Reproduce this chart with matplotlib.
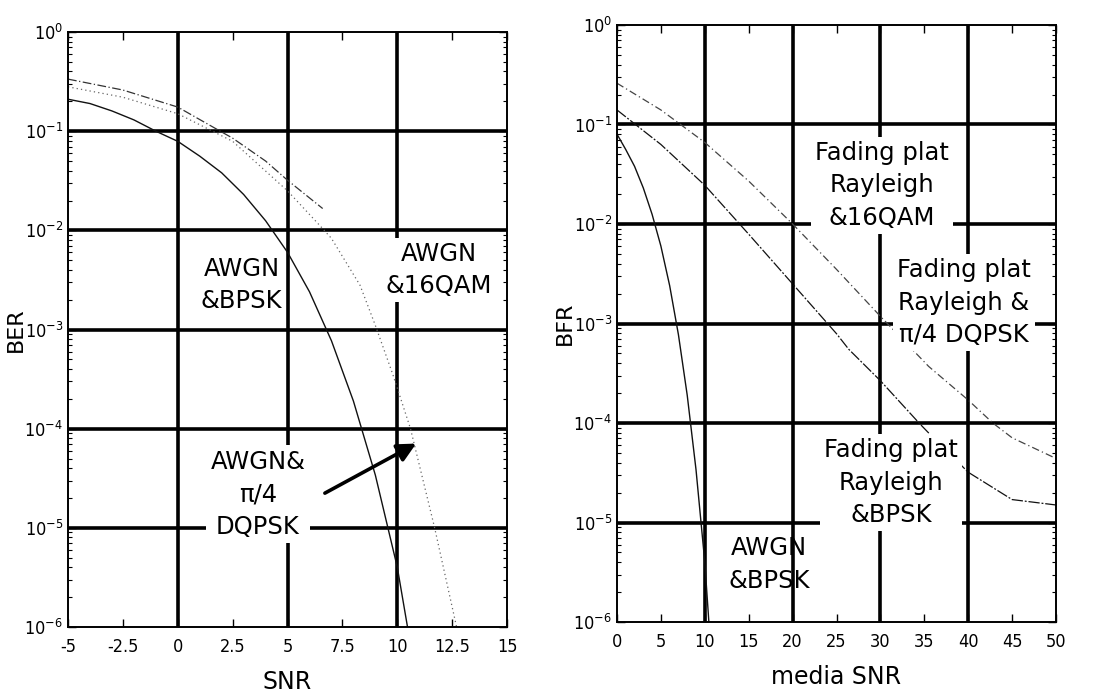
import matplotlib

matplotlib.use("Agg")
import matplotlib.pyplot as plt

# --- AWGN panel (BER vs SNR, dB) ---
awgn_bpsk_snr = [-5, -4, -3, -2, -1, 0, 1, 2, 3, 4, 5, 6, 7, 8, 9, 10, 10.5]
awgn_bpsk_ber = [0.21, 0.19, 0.16, 0.13, 0.10, 0.079, 0.056, 0.038, 0.023, 0.0125,
                 0.006, 0.0024, 7.7e-4, 1.9e-4, 3.4e-5, 4e-6, 9e-7]

awgn_qam_snr = [-5, -2.5, 0, 1.7, 2.5, 4, 5, 6.6]
awgn_qam_ber = [0.335, 0.26, 0.175, 0.107, 0.085, 0.05, 0.032, 0.0166]

awgn_dqpsk_snr = [-5, -2.5, 0, 2.5, 5, 6.5, 7, 8.3, 9.0, 9.8, 10.6, 11.7, 12.7]
awgn_dqpsk_ber = [0.28, 0.22, 0.15, 0.079, 0.025, 0.011, 0.0083, 2.8e-3, 1.1e-3,
                  3.5e-4, 1e-4, 1e-5, 1e-6]

# --- flat Rayleigh panel (BER vs mean SNR, dB) ---
ray_awgn_snr = [0, 1, 2, 3, 4, 5, 6, 7, 8, 9, 10, 10.5]
ray_awgn_ber = [0.08, 0.056, 0.038, 0.023, 0.0125, 0.006, 0.0024, 7.7e-4, 1.9e-4,
                3.4e-5, 4e-6, 9e-7]

ray_bpsk_snr = [0, 5, 10, 15, 20, 25, 26.4, 30, 34.4, 35.4, 40, 45, 50]
ray_bpsk_ber = [0.14, 0.063, 0.0245, 0.0079, 0.0025, 7.9e-4, 5.5e-4, 2.66e-4, 1e-4,
                8.1e-5, 3.2e-5, 1.7e-5, 1.5e-5]

ray_upper_snr = [0, 5, 10, 15, 20, 25, 30, 35.5, 40, 42.8, 45, 50]
ray_upper_ber = [0.26, 0.14, 0.066, 0.027, 0.01, 3.5e-3, 1.18e-3, 3.7e-4, 1.7e-4,
                 1e-4, 7.1e-5, 4.4e-5]

LEFT_XTICKS = [-5, -2.5, 0, 2.5, 5, 7.5, 10, 12.5, 15]
RIGHT_XTICKS = list(range(0, 55, 5))
DECADES = list(range(-6, 1))

plt.rcParams["font.family"] = ["DejaVu Sans"]
TICK = dict(fontsize=13, fontstretch="condensed")


def decade_label(k):
    return r"$\mathregular{10^{%d}}$" % k


def frame(ax, xlim, xticks, vgrid):
    ax.set_yscale("log")
    ax.set_xlim(*xlim)
    ax.set_ylim(1e-6, 1)
    ax.set_xticks(xticks)
    ax.set_xticklabels([f"{t:g}" for t in xticks], **TICK)
    ax.set_yticks([10.0 ** k for k in DECADES])
    ax.set_yticklabels([decade_label(k) for k in DECADES], **TICK)
    ax.tick_params(which="both", direction="in", top=True, right=True)
    ax.tick_params(which="major", length=6, width=1)
    ax.tick_params(which="minor", length=3, width=0.8)
    ax.tick_params(axis="x", pad=8)
    for s in ax.spines.values():
        s.set_linewidth(1.4)
    # heavy grid, every other x tick and every decade
    for x in vgrid:
        ax.axvline(x, color="black", lw=2.6, zorder=1)
    for k in DECADES[1:-1]:
        ax.axhline(10.0 ** k, color="black", lw=2.6, zorder=1)


box = dict(facecolor="white", edgecolor="none", pad=3)
txt = dict(fontsize=17.5, ha="center", va="center", linespacing=1.45, zorder=3)

fig = plt.figure(figsize=(10.99, 6.96), dpi=100)

# left: AWGN
ax = fig.add_axes([0.0619, 0.0991, 0.3995, 0.8549])
frame(ax, (-5, 15), LEFT_XTICKS, [0, 5, 10])
ax.plot(awgn_bpsk_snr, awgn_bpsk_ber, color="#111111", lw=1.0, zorder=2)
ax.plot(awgn_qam_snr, awgn_qam_ber, color="#333333", lw=0.9, ls=(0, (7, 2, 1, 2)), zorder=2)
ax.plot(awgn_dqpsk_snr, awgn_dqpsk_ber, color="#666666", lw=0.9, ls=(0, (1, 2.5)), zorder=2)
ax.text(2.9, 10 ** -2.55, "AWGN\n&BPSK", bbox=box, **txt)
ax.text(11.9, 10 ** -2.4, "AWGN\n&16QAM", bbox=box, **txt)
ax.text(3.65, 10 ** -4.66, "AWGN&\n\u03c0/4\nDQPSK", bbox=box, **txt)
ax.annotate("", xy=(10.86, 10 ** -4.15), xytext=(6.7, 10 ** -4.65), zorder=4,
            arrowprops=dict(arrowstyle="-|>", lw=2.6, color="black", mutation_scale=28,
                            shrinkA=0, shrinkB=0))
ax.set_xlabel("SNR", fontsize=17, labelpad=10)
ax.set_ylabel("BER", fontsize=16)
ax.yaxis.set_label_coords(-0.095, 0.5)

# right: flat Rayleigh fading
ax = fig.add_axes([0.5614, 0.1063, 0.3995, 0.8578])
frame(ax, (0, 50), RIGHT_XTICKS, [10, 20, 30, 40])
ax.plot(ray_awgn_snr, ray_awgn_ber, color="#111111", lw=1.0, zorder=2)
ax.plot(ray_bpsk_snr, ray_bpsk_ber, color="#111111", lw=0.9, ls=(0, (9, 1.5, 1.5, 1.5)), zorder=2)
ax.plot(ray_upper_snr, ray_upper_ber, color="#444444", lw=0.9, ls=(0, (6, 2.5, 1, 2.5)), zorder=2)
ax.text(30.2, 10 ** -1.61, "Fading plat\nRayleigh\n&16QAM", bbox=box, **txt)
ax.text(39.5, 10 ** -2.79, "Fading plat\nRayleigh &\n\u03c0/4 DQPSK", bbox=box, **txt)
ax.text(31.2, 10 ** -4.6, "Fading plat\nRayleigh\n&BPSK", bbox=box, **txt)
ax.text(17.3, 10 ** -5.42, "AWGN\n&BPSK", **txt)
ax.set_xlabel("media SNR", fontsize=17, labelpad=10)
ax.set_ylabel("BFR", fontsize=16)
ax.yaxis.set_label_coords(-0.095, 0.5)

fig.savefig("out.png", dpi=100)
